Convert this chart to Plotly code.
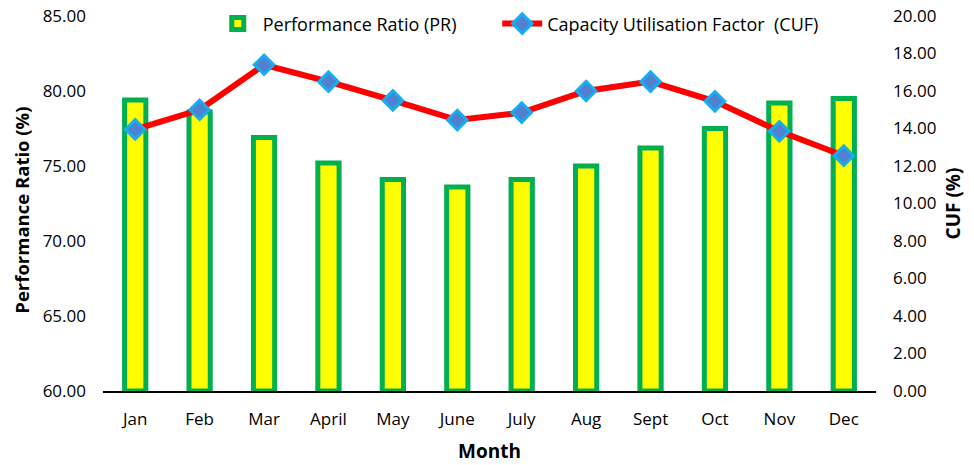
import plotly.graph_objects as go

months = ["Jan", "Feb", "Mar", "April", "May", "June", "July", "Aug", "Sept", "Oct", "Nov", "Dec"]
pr_values = [79.4, 78.6, 76.9, 75.2, 74.1, 73.6, 74.1, 75.0, 76.2, 77.5, 79.2, 79.5]
cuf_values = [13.95, 15.0, 17.4, 16.5, 15.5, 14.45, 14.85, 16.0, 16.5, 15.45, 13.85, 12.55]
left_ticks = [60, 65, 70, 75, 80, 85]
right_ticks = [0, 2, 4, 6, 8, 10, 12, 14, 16, 18, 20]

fig = go.Figure()
fig.add_trace(go.Bar(
    x=months, y=[v - 60 for v in pr_values], base=60,
    name="Performance Ratio (PR)",
    marker=dict(color="#FFFF00", line=dict(color="#00B050", width=5)),
    width=0.33, yaxis="y", legend="legend",
))
fig.add_trace(go.Scatter(
    x=months, y=cuf_values, name="Capacity Utilisation Factor  (CUF)",
    mode="lines+markers", yaxis="y2", legend="legend2",
    line=dict(color="#FF0000", width=6),
    marker=dict(symbol="diamond", size=15, color="#4F81D0",
                line=dict(color="#16AEEF", width=3)),
))

font_family = "Open Sans, DejaVu Sans, sans-serif"
legend_common = dict(orientation="h", xanchor="left", y=0.979, yanchor="middle",
                     font=dict(size=18), bgcolor="rgba(0,0,0,0)", itemwidth=40)
fig.update_layout(
    width=958, height=457,
    margin=dict(l=95, r=90, t=8, b=74, autoexpand=False),
    plot_bgcolor="white", paper_bgcolor="white",
    font=dict(family=font_family, size=16, color="black"),
    showlegend=True,
    legend=dict(x=0.142, **legend_common),
    legend2=dict(x=0.51, **legend_common),
    xaxis=dict(range=[-0.5, 11.5], showgrid=False, showline=True, linecolor="black", linewidth=2,
               ticks="", tickfont=dict(size=17), automargin=False, ticklabelstandoff=12),
    yaxis=dict(range=[60, 85], tickvals=left_ticks, tickformat=".2f",
               showgrid=False, zeroline=False, showline=False, ticks="",
               tickfont=dict(size=17), automargin=False, ticklabelstandoff=16,
               ticklabeloverflow="allow"),
    yaxis2=dict(range=[0, 20], tickvals=right_ticks, tickformat=".2f",
                overlaying="y", side="right",
                showgrid=False, zeroline=False, showline=False, ticks="",
                tickfont=dict(size=17), automargin=False, ticklabelstandoff=16,
                ticklabeloverflow="allow",
                title=dict(text="<b>CUF (%)</b>", font=dict(size=19), standoff=14)),
    annotations=[
        dict(text="<b>Performance Ratio (%)</b>", textangle=-90,
             xref="paper", yref="paper", x=-0.105, y=0.483,
             xanchor="center", yanchor="middle", showarrow=False,
             font=dict(size=18.5)),
        dict(text="<b>Month</b>", xref="paper", yref="paper", x=0.5, y=-0.16,
             xanchor="center", yanchor="middle", showarrow=False,
             font=dict(size=19)),
    ],
)

fig.write_html("out.html")
